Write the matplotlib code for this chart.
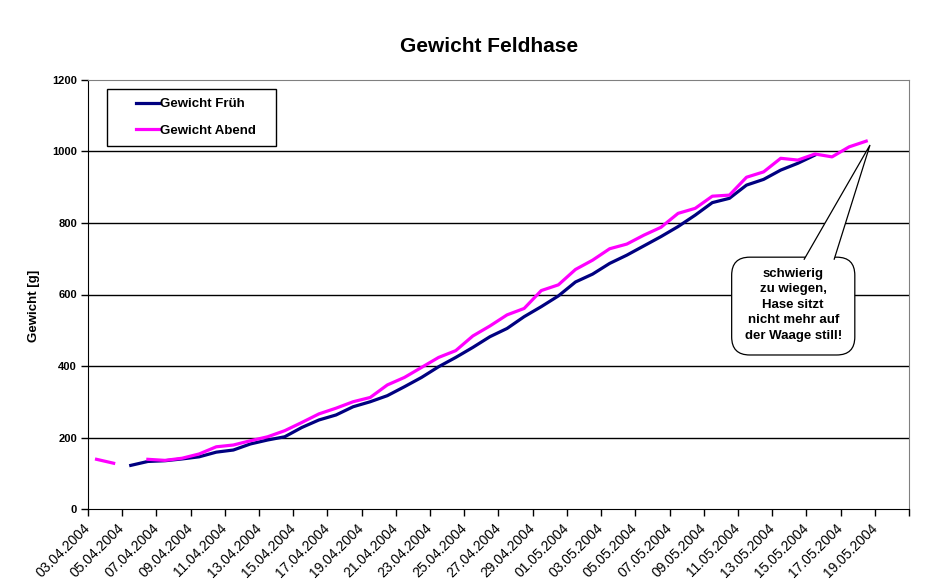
import matplotlib
matplotlib.use("Agg")
import matplotlib.pyplot as plt
import numpy as np
from matplotlib.patches import FancyBboxPatch, Polygon
from matplotlib.legend_handler import HandlerLine2D

plt.rcParams['font.family'] = ['Liberation Sans', 'DejaVu Sans']

# one slot per day, 03.04.2004 - 20.05.2004
n_days = 48
tick_labels = ['03.04.2004', '05.04.2004', '07.04.2004', '09.04.2004', '11.04.2004',
               '13.04.2004', '15.04.2004', '17.04.2004', '19.04.2004', '21.04.2004',
               '23.04.2004', '25.04.2004', '27.04.2004', '29.04.2004', '01.05.2004',
               '03.05.2004', '05.05.2004', '07.05.2004', '09.05.2004', '11.05.2004',
               '13.05.2004', '15.05.2004', '17.05.2004', '19.05.2004', '']

nan = np.nan
gewicht_frueh = [nan, nan, 122, 133, 135, 140, 146, 159, 165, 182,
                 193, 202, 228, 249, 263, 286, 300, 317, 342, 368,
                 398, 424, 452, 482, 505, 538, 566, 596, 635, 657,
                 687, 710, 736, 762, 790, 822, 857, 869, 906, 922,
                 948, 967, 990, nan, nan, nan, nan, nan]
gewicht_abend = [139, 128, nan, 139, 136, 142, 154, 174, 179, 191,
                 202, 219, 242, 266, 282, 300, 312, 347, 368, 396,
                 424, 443, 484, 512, 543, 561, 611, 627, 670, 696,
                 728, 741, 766, 788, 827, 841, 875, 878, 928, 943,
                 981, 976, 993, 985, 1013, 1029, nan, nan]

note = "schwierig\nzu wiegen,\nHase sitzt\nnicht mehr auf\nder Waage still!"


class RightLineHandler(HandlerLine2D):
    # draw the legend line only in the right part of the handle area
    def create_artists(self, legend, orig_handle, xdescent, ydescent,
                       width, height, fontsize, trans):
        arts = super().create_artists(legend, orig_handle, xdescent, ydescent,
                                      width, height, fontsize, trans)
        xd = np.asarray(arts[0].get_xdata(), dtype=float)
        x0 = xd[0] + 0.45 * (xd[-1] - xd[0])
        arts[0].set_xdata(np.linspace(x0, xd[-1], len(xd)))
        return arts


fig = plt.figure(figsize=(9.37, 5.88), dpi=100)
ax_l, ax_b, ax_w, ax_h = 88/937, 1-509/588, 821/937, 429/588
ax = fig.add_axes([ax_l, ax_b, ax_w, ax_h])

x = np.arange(n_days) + 0.5
l1, = ax.plot(x, gewicht_frueh, color='#000080', lw=2.3, label='Gewicht Früh')
l2, = ax.plot(x, gewicht_abend, color='#FF00FF', lw=2.3, label='Gewicht Abend')

ax.set_xlim(0, n_days)
ax.set_ylim(0, 1200)
ax.set_yticks(np.arange(0, 1201, 200))
ax.set_xticks(np.arange(0, n_days + 1, 2))
ax.set_xticklabels(tick_labels, rotation=45, ha='right', va='center',
                   rotation_mode='anchor', fontsize=10)
for t in ax.get_yticklabels():
    t.set_fontweight('bold')
    t.set_fontsize(8)
ax.tick_params(axis='both', direction='out', length=5, width=1, color='black')
ax.tick_params(axis='x', pad=7)
ax.tick_params(axis='y', pad=3)

for y in range(200, 1200, 200):
    ax.axhline(y, color='black', lw=1, zorder=1)
ax.spines['top'].set_color('#808080')
ax.spines['right'].set_color('#808080')
ax.spines['left'].set_color('black')
ax.spines['bottom'].set_color('black')

leg = ax.legend(loc='upper left', bbox_to_anchor=(0.023, 0.979 - 0.128, 0.206, 0.128),
                mode='expand', borderaxespad=0,
                fancybox=False, edgecolor='black', framealpha=1,
                prop={'weight': 'bold', 'size': 9.5}, handlelength=3.3,
                handletextpad=0.0, labelspacing=1.05, borderpad=0.7,
                handler_map={l1: RightLineHandler(), l2: RightLineHandler()})
leg.get_frame().set_linewidth(1)
leg.set_zorder(10)

# callout box with wedge
asp = (ax_w * 937) / (ax_h * 588)
bx0, bx1, by0, by1 = 0.784, 0.934, 0.359, 0.587
box = FancyBboxPatch((bx0, by0), bx1 - bx0, by1 - by0, transform=ax.transAxes,
                     boxstyle='round,pad=0,rounding_size=0.022', mutation_aspect=asp,
                     fc='white', ec='black', lw=0.9, zorder=5)
ax.add_patch(box)
wedge = Polygon([(0.872, by1 - 0.006), (0.9525, 0.8485), (0.9087, by1 - 0.006)],
                closed=False, transform=ax.transAxes, fc='white', ec='black',
                lw=0.9, zorder=6)
ax.add_patch(wedge)
ax.text(0.859, 0.476, note, transform=ax.transAxes, ha='center', va='center',
        fontsize=9.5, fontweight='bold', linespacing=1.4, zorder=7)

fig.text(489/937, 1-47/588, 'Gewicht Feldhase', ha='center', va='center',
         fontsize=15, fontweight='bold')
fig.text(34/937, 1-306/588, 'Gewicht [g]', ha='center', va='center',
         rotation=90, fontsize=9.5, fontweight='bold')

fig.savefig('out.png', dpi=100)
